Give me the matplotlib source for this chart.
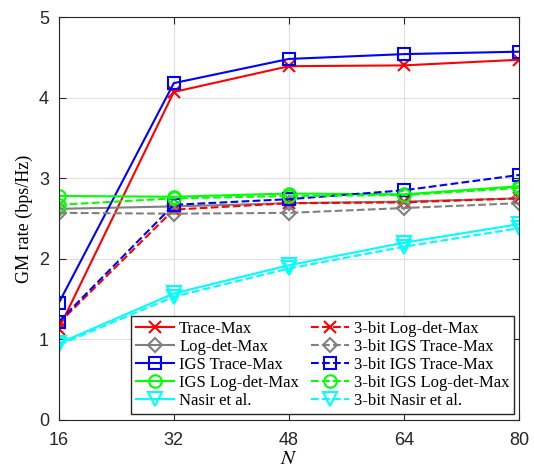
import numpy as np
import matplotlib.pyplot as plt

N = [16, 32, 48, 64, 80]

trace_max = [1.13, 4.07, 4.39, 4.40, 4.47]
logdet_max = [2.62, 2.65, 2.69, 2.71, 2.75]
igs_trace = [1.45, 4.18, 4.48, 4.54, 4.57]
igs_logdet = [2.78, 2.77, 2.81, 2.80, 2.90]
nasir = [0.95, 1.57, 1.92, 2.20, 2.43]

q_logdet_max = [1.20, 2.61, 2.69, 2.70, 2.75]
q_igs_trace_gray = [2.57, 2.56, 2.57, 2.63, 2.69]
q_igs_trace = [1.22, 2.67, 2.74, 2.85, 3.04]
q_igs_logdet = [2.67, 2.75, 2.78, 2.79, 2.88]
q_nasir = [0.93, 1.53, 1.88, 2.15, 2.38]

plt.rcParams["font.family"] = ["Liberation Sans", "DejaVu Sans"]
plt.rcParams["mathtext.fontset"] = "stix"

fig = plt.figure(figsize=(5.34, 4.68), dpi=100)
ax = fig.add_axes([0.110, 0.1026, 0.862, 0.861])

lw = 1.5
ms = 8
ax.plot(N, trace_max, "-x", color="red", lw=lw, ms=ms, mew=1.5, label="Trace-Max")
ax.plot(N, logdet_max, "-D", color="gray", lw=lw, ms=ms - 1, mfc="none", mew=1.5, label="Log-det-Max")
ax.plot(N, igs_trace, "-s", color="blue", lw=lw, ms=ms, mfc="none", mew=1.5, label="IGS Trace-Max")
ax.plot(N, igs_logdet, "-o", color="lime", lw=lw, ms=ms + 1, mfc="none", mew=1.5, label="IGS Log-det-Max")
ax.plot(N, nasir, "-v", color="cyan", lw=lw, ms=ms + 2, mfc="none", mew=1.5, label="Nasir et al.")

ax.plot(N, q_logdet_max, "--x", color="red", lw=lw, ms=ms, mew=1.5, label="3-bit Log-det-Max")
ax.plot(N, q_igs_trace_gray, "--D", color="gray", lw=lw, ms=ms - 1, mfc="none", mew=1.5, label="3-bit IGS Trace-Max")
ax.plot(N, q_igs_trace, "--s", color="blue", lw=lw, ms=ms, mfc="none", mew=1.5, label="3-bit IGS Trace-Max")
ax.plot(N, q_igs_logdet, "--o", color="lime", lw=lw, ms=ms + 1, mfc="none", mew=1.5, label="3-bit IGS Log-det-Max")
ax.plot(N, q_nasir, "--v", color="cyan", lw=lw, ms=ms + 2, mfc="none", mew=1.5, label="3-bit Nasir et al.")

ax.set_xlim(16, 80)
ax.set_ylim(0, 5)
ax.set_xticks(N)
ax.set_yticks([0, 1, 2, 3, 4, 5])
ax.tick_params(direction="in", top=True, right=True, labelsize=13, colors="#262626", length=5)
ax.tick_params(axis="x", pad=9)
ax.tick_params(axis="y", pad=7)
ax.grid(True, color="#e0e0e0", lw=0.8)
ax.set_axisbelow(True)
for s in ax.spines.values():
    s.set_color("#262626")
    s.set_linewidth(0.8)

ax.set_xlabel("$N$", fontsize=15, labelpad=0)
ax.set_ylabel("GM rate (bps/Hz)", fontsize=13, family="Liberation Serif", labelpad=4)

ax.legend(loc="lower right", bbox_to_anchor=(0.99, 0.015), ncol=2,
          prop={"family": "Liberation Serif", "size": 12}, fancybox=False,
          edgecolor="#262626", framealpha=1, handlelength=2.3,
          labelspacing=0.12, columnspacing=0.7, handletextpad=0.3, borderpad=0.3,
          borderaxespad=0)

fig.savefig("out.png", dpi=100)
